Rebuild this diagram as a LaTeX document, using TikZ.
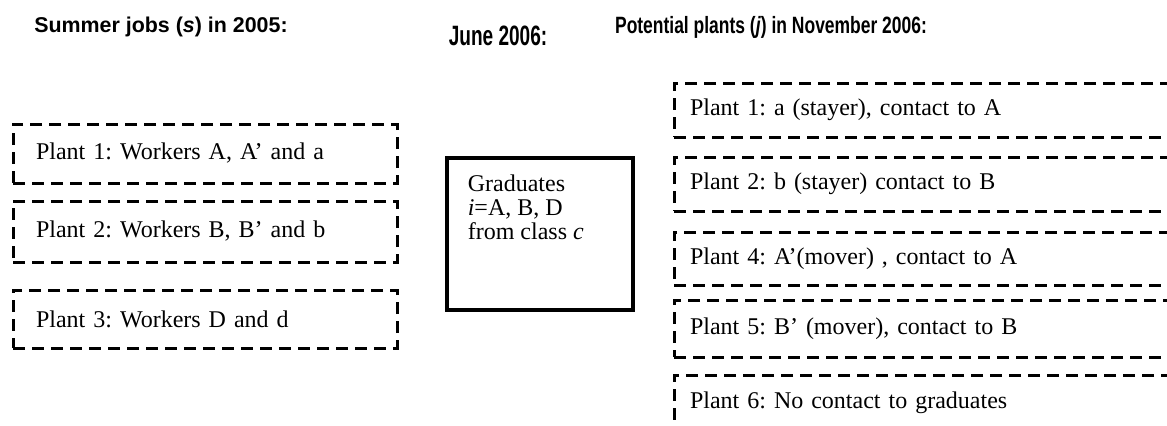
\documentclass[tikz,border=0pt]{standalone}
\usepackage{fontspec}
\setmainfont{Liberation Serif}
\newfontfamily\headsans{Liberation Sans}
\newfontfamily\headnarrow[FakeStretch=0.74]{Liberation Sans}
\newfontfamily\headjune[FakeStretch=0.68]{Liberation Sans}
\usepackage{tikz}
\usetikzlibrary{positioning}
\frenchspacing

\begin{document}
\begin{tikzpicture}[x=0.5pt, y=0.5pt,
		plantbox/.style={draw, line width=1.5pt, dash pattern=on 6pt off 3.5pt, inner sep=0pt, font=\fontsize{12}{13}\selectfont},
		gradbox/.style={draw, line width=1.6pt, inner sep=0pt, minimum width=93pt, minimum height=76pt},
		heading/.style={font=\headsans\bfseries\fontsize{10.7}{12}\selectfont}]
				\useasboundingbox (0,0) rectangle (1167,425);
				
				\node[heading] (H1) at (161, 398) {Summer jobs (\textit{s}) in 2005:};
				\node[heading, font=\headjune\bfseries\fontsize{14}{15}\selectfont] (H2) at (498, 389) {June 2006:};
				\node[heading, font=\headnarrow\bfseries\fontsize{11.8}{13}\selectfont] (H3) at (771, 398) {Potential plants (\textit{j}) in November 2006:};
				
				\node[plantbox, minimum width=192pt, minimum height=29.5pt, text width=169pt] (S1) at (205, 271.5) {Plant 1: Workers A, A' and a};
				\node[plantbox, minimum width=192pt, minimum height=30.5pt, text width=169pt] (S2) at (205, 193.5) {Plant 2: Workers B, B' and b};
				\node[plantbox, minimum width=192pt, minimum height=29pt, text width=169pt] (S3) at (205, 106) {Plant 3: Workers D and d};
				
				\node[gradbox] (G) at (540, 191) {};
				\node[anchor=north west, align=left, inner sep=0pt, font=\fontsize{12}{12}\selectfont] (Gtext) at ([xshift=11pt, yshift=-9pt]G.north west) {Graduates\\ \textit{i}=A, B, D\\ from class \textit{c}};
				
				\clip (0,0) rectangle (1167,425);
				\node[plantbox, minimum width=263pt, minimum height=27pt, text width=247pt] (J1) at (937, 315) {Plant 1: a (stayer), contact to A};
				\node[plantbox, minimum width=263pt, minimum height=27pt, text width=247pt] (J2) at (937, 241) {Plant 2: b (stayer) contact to B};
				\node[plantbox, minimum width=263pt, minimum height=26.5pt, text width=247pt] (J4) at (937, 166.5) {Plant 4: A'(mover) , contact to A};
				\node[plantbox, minimum width=263pt, minimum height=28.5pt, text width=247pt] (J5) at (937, 96.5) {Plant 5: B' (mover), contact to B};
				\node[plantbox, minimum width=263pt, minimum height=27.5pt, text width=247pt] (J6) at (937, 22.5) {Plant 6: No contact to graduates};
			\end{tikzpicture}
\end{document}
